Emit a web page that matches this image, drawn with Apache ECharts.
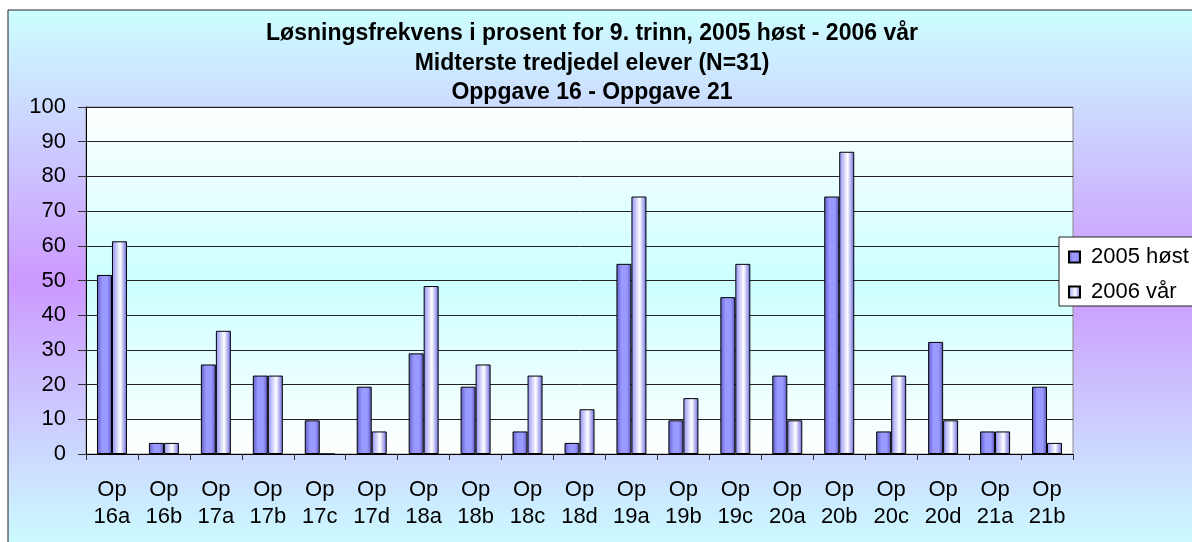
<!DOCTYPE html>
<html>
<head>
<meta charset="utf-8">
<title>Løsningsfrekvens</title>
<script src="https://cdn.jsdelivr.net/npm/echarts@6/dist/echarts.min.js"></script>
<style>
    html, body { margin: 0; padding: 0; background: #fff; }
    #contain { width: 1192px; height: 542px; }
</style>
</head>
<body>
<div id="contain"></div>
<script>
var categories = ['Op 16a', 'Op 16b', 'Op 17a', 'Op 17b', 'Op 17c', 'Op 17d', 'Op 18a', 'Op 18b', 'Op 18c', 'Op 18d',
    'Op 19a', 'Op 19b', 'Op 19c', 'Op 20a', 'Op 20b', 'Op 20c', 'Op 20d', 'Op 21a', 'Op 21b'];
var host2005 = [51.6, 3.2, 25.8, 22.6, 9.7, 19.4, 29.0, 19.4, 6.5, 3.2, 54.8, 9.7, 45.2, 22.6, 74.2, 6.5, 32.3, 6.5, 19.4];
var var2006 = [61.3, 3.2, 35.5, 22.6, 0, 6.5, 48.4, 25.8, 22.6, 12.9, 74.2, 16.1, 54.8, 9.7, 87.1, 22.6, 9.7, 6.5, 3.2];
var seriesNames = ['2005 høst', '2006 vår'];
var yTicks = [0, 10, 20, 30, 40, 50, 60, 70, 80, 90, 100];

var font = "'Liberation Sans', Arial, sans-serif";

var myChart = echarts.init(document.getElementById('contain'));

var option = {
    backgroundColor: '#ffffff',
    animation: false,
    graphic: [{
        type: 'rect',
        z: -10,
        silent: true,
        shape: { x: 8, y: 10, width: 1200, height: 545 },
        style: {
            fill: new echarts.graphic.LinearGradient(0, 0, 0, 1, [
                { offset: 0, color: '#ccffff' },
                { offset: 0.5, color: '#cc99ff' },
                { offset: 1, color: '#ccffff' }
            ]),
            stroke: '#222',
            lineWidth: 1
        }
    }],
    title: {
        text: 'Løsningsfrekvens i prosent for 9. trinn, 2005 høst - 2006 vår\nMidterste tredjedel elever (N=31)\nOppgave 16 - Oppgave 21',
        left: 592,
        top: 19,
        textAlign: 'center',
        padding: 0,
        textStyle: {
            fontFamily: font,
            fontSize: 23,
            fontWeight: 'bold',
            color: '#000',
            lineHeight: 29.5
        }
    },
    legend: {
        orient: 'vertical',
        left: 1059,
        top: 237,
        padding: [8, 10, 2, 9],
        itemWidth: 11,
        itemHeight: 11,
        itemGap: 11,
        icon: 'rect',
        backgroundColor: '#ffffff',
        borderColor: '#222',
        borderWidth: 1,
        borderRadius: 0,
        data: seriesNames,
        textStyle: {
            fontFamily: font,
            fontSize: 22,
            color: '#000',
            lineHeight: 24,
            padding: [0, 0, 0, 6]
        }
    },
    grid: {
        show: true,
        left: 86,
        top: 107,
        right: 119,
        bottom: 88,
        containLabel: false,
        borderColor: '#888',
        borderWidth: 1,
        backgroundColor: new echarts.graphic.LinearGradient(0, 0, 0, 1, [
            { offset: 0, color: '#ffffff' },
            { offset: 0.5, color: '#ccffff' },
            { offset: 1, color: '#ffffff' }
        ])
    },
    xAxis: {
        type: 'category',
        data: categories,
        axisLine: { lineStyle: { color: '#000', width: 1 } },
        axisTick: { show: true, alignWithLabel: false, length: 6, lineStyle: { color: '#333' } },
        axisLabel: {
            interval: 0,
            margin: 22,
            fontFamily: font,
            fontSize: 22,
            color: '#000',
            lineHeight: 27,
            formatter: function (v) { return v.replace(' ', '\n'); }
        }
    },
    yAxis: {
        type: 'value',
        min: yTicks[0],
        max: yTicks[yTicks.length - 1],
        interval: 10,
        axisLine: { show: true, lineStyle: { color: '#000', width: 1 } },
        axisTick: { show: true, inside: false, length: 8, lineStyle: { color: '#333' } },
        axisLabel: {
            margin: 20,
            fontFamily: font,
            fontSize: 22,
            color: '#000'
        },
        splitLine: { show: true, lineStyle: { color: '#222', width: 1 } }
    },
    series: [{
        name: seriesNames[0],
        type: 'bar',
        data: host2005,
        barWidth: 15,
        barGap: '0%',
        itemStyle: {
            color: new echarts.graphic.LinearGradient(0, 0, 1, 0, [
                { offset: 0, color: '#5c5cc4' },
                { offset: 0.35, color: '#9999ff' },
                { offset: 0.7, color: '#9999ff' },
                { offset: 1, color: '#5555b8' }
            ]),
            borderColor: '#000',
            borderWidth: 1
        }
    }, {
        name: seriesNames[1],
        type: 'bar',
        data: var2006,
        barWidth: 15,
        itemStyle: {
            color: new echarts.graphic.LinearGradient(0, 0, 1, 0, [
                { offset: 0, color: '#8f8ff5' },
                { offset: 0.55, color: '#ffffff' },
                { offset: 1, color: '#6666dd' }
            ]),
            borderColor: '#000',
            borderWidth: 1
        }
    }]
};

myChart.setOption(option);
</script>
</body>
</html>
